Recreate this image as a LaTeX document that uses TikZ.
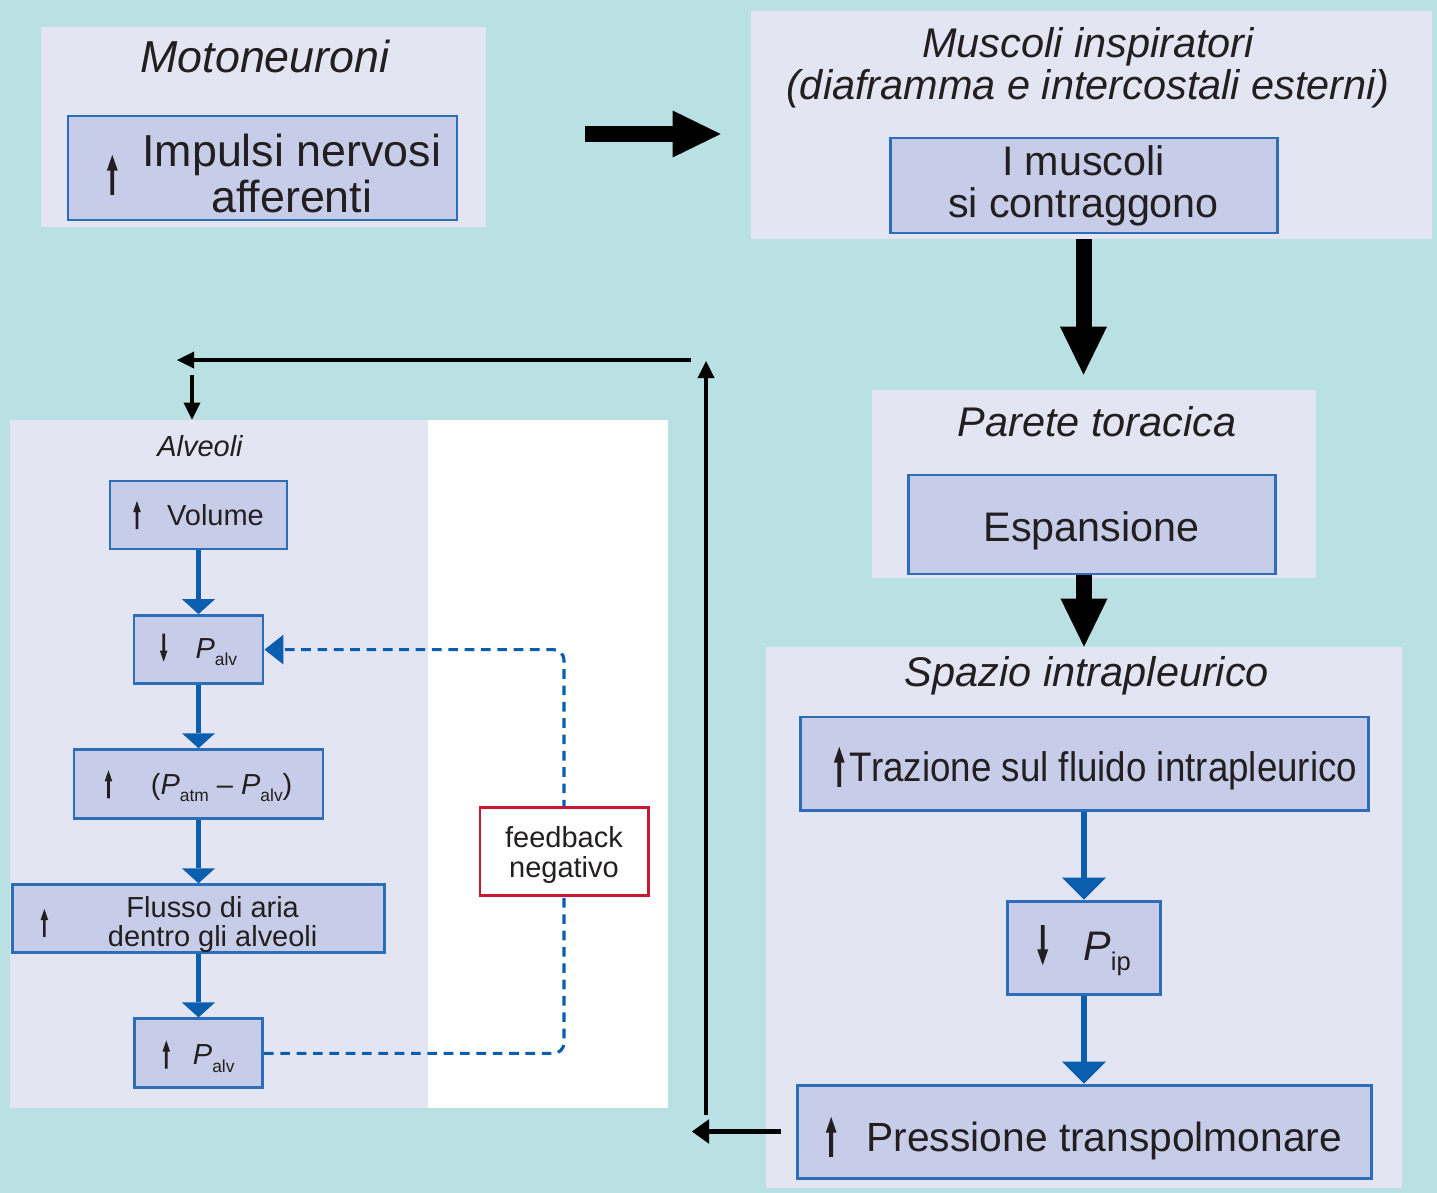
\documentclass[tikz,border=0pt]{standalone}
\usepackage{fontspec}
\setmainfont{Liberation Sans}
\usepackage{graphicx}
\usetikzlibrary{positioning, arrows.meta, calc}

\definecolor{fondo}{RGB}{185,224,227}
\definecolor{lavanda}{RGB}{227,229,242}
\definecolor{lilla}{RGB}{199,205,233}
\definecolor{bordoblu}{RGB}{45,110,185}
\definecolor{blu}{RGB}{10,94,173}
\definecolor{rosso}{RGB}{200,25,50}
\definecolor{inchiostro}{RGB}{35,31,32}

\newdimen\px \px=0.02cm

\newcommand{\frecciasu}[1][1]{\tikz[x=#1pt,y=#1pt,baseline={([yshift=-0.36em]current bounding box.center)}]{\fill (-1.1,0) rectangle (1.1,14.5) (-3.1,13.8) -- (0,22.8) -- (3.1,13.8) -- cycle;}}
\newcommand{\frecciagiu}[1][1]{\tikz[x=#1pt,y=#1pt,baseline={([yshift=-0.36em]current bounding box.center)}]{\fill (-1.1,22.8) rectangle (1.1,8.3) (-3.1,9) -- (0,0) -- (3.1,9) -- cycle;}}
\newcommand{\pres}[2][0.6]{\textit{P}\raisebox{-0.25em}{\scalebox{#1}{#2}}}
\newcommand{\scendi}[2]{\raisebox{-#1}[\height][\depth]{#2}}

\begin{document}
\begin{tikzpicture}[x=0.02cm, y=-0.02cm, on grid,
  pannello/.style={fill=lavanda, inner sep=0pt},
  scatola/.style={draw=bordoblu, fill=lilla, line width=1.7pt, inner sep=0pt, text=inchiostro},
  titolo/.style={text=inchiostro, inner sep=0pt, font=\fontsize{23.6}{24}\selectfont\itshape},
  grande/.style={font=\fontsize{23.5}{24}\selectfont},
  piccolo/.style={font=\fontsize{16.5}{16}\selectfont},
  grossa/.style={line width=9.1pt, -{Triangle[length=27.3pt, width=26.7pt, line width=0pt]}},
  nera/.style={line width=2.8pt, -{Triangle[length=9.7pt, width=9.7pt, line width=0pt]}},
  flusso/.style={draw=blu, line width=2.3pt, -{Triangle[length=8.5pt, width=18.8pt, line width=0pt]}},
  flussogr/.style={draw=blu, line width=2.9pt, -{Triangle[length=12.5pt, width=25pt, line width=0pt]}},
  retro/.style={draw=blu, line width=1.8pt, dash pattern=on 5.5pt off 3.8pt, rounded corners=6pt,
    -{Triangle[length=10.8pt, width=17pt, line width=0pt]}},
  nota/.style={draw=rosso, fill=white, line width=1.7pt, inner sep=0pt, text=inchiostro}]

  \path[use as bounding box, fill=fondo] (0,0) rectangle (1437,1193);

  % pannelli
  \node[pannello, minimum width=445\px, minimum height=200\px] (pmot) at (263.5,127) {};
  \node[pannello, minimum width=681\px, minimum height=228\px] (pmus) at (1091.5,125) {};
  \node[pannello, minimum width=444\px, minimum height=188\px] (ppar) at (1094,484) {};
  \node[pannello, minimum width=636\px, minimum height=541\px] (pspa) at (1084,917.5) {};
  \node[pannello, minimum width=418\px, minimum height=688\px] (palv) at (219,764) {};
  \fill[white] (palv.north east) rectangle ($(palv.south east)+(240,0)$);

  % titoli
  \node[titolo, font=\fontsize{25.5}{25}\selectfont\itshape, anchor=base] (tmot) at (265,73) {Motoneuroni};
  \node[titolo, align=center] (tmus) at (1088,68) {Muscoli inspiratori\\(diaframma e intercostali esterni)};
  \node[titolo, anchor=base] (tpar) at (1097,436) {Parete toracica};
  \node[titolo, anchor=base] (tspa) at (1087,686) {Spazio intrapleurico};
  \node[titolo, font=\fontsize{16.5}{16}\selectfont\itshape, anchor=base] (talv) at (200,456) {Alveoli};

  \node[scatola, minimum width=389\px, minimum height=104\px, font=\fontsize{25.5}{25.6}\selectfont] (imp) at (262.5,168)
    {\scendi{12\px}{\hspace*{23\px}\frecciasu\hspace{14pt}\begin{tabular}{@{}c@{}}Impulsi nervosi\\afferenti\end{tabular}}};
  \node[scatola, grande, align=center, minimum width=387\px, minimum height=95\px] (mus) at (1083.5,185.5) {I muscoli\\si contraggono};
  \node[scatola, grande, minimum width=367\px, minimum height=99\px] (esp) at (1091.5,524.5) {\scendi{6\px}{Espansione}};

  % spazio intrapleurico
  \node[scatola, grande, minimum width=568\px, minimum height=93\px] (tra) at (1084,763.5)
    {\scendi{5\px}{\hspace*{23\px}\frecciasu\hspace{3pt}\scalebox{0.89}[1]{Trazione sul fluido intrapleurico}}};
  \node[scatola, grande, minimum width=153\px, minimum height=93\px] (pip) [below=184\px of tra]
    {\scendi{3\px}{\frecciagiu\hspace{20pt}\pres[0.62]{ip}}};
  \node[scatola, font=\fontsize{23.2}{24}\selectfont, minimum width=574\px, minimum height=93\px] (pre) [below=184\px of pip]
    {\scendi{7\px}{\frecciasu\hspace{17pt}Pressione transpolmonare}};

  % alveoli
  \node[scatola, piccolo, minimum width=177\px, minimum height=68\px] (vol) at (198.5,515) {\frecciasu[0.7]\hspace{15pt}Volume};
  \node[scatola, piccolo, minimum width=129\px, minimum height=68\px] (pa1) [below=134.6\px of vol] {\frecciagiu[0.7]\hspace{16pt}\pres{alv}};
  \node[scatola, piccolo, minimum width=249\px, minimum height=69\px] (dif) [below=134.6\px of pa1]
    {\scendi{2\px}{\frecciasu[0.7]\hspace{22pt}(\pres{atm} – \pres{alv})}};
  \node[scatola, piccolo, minimum width=372\px, minimum height=68\px] (flu) [below=134.6\px of dif]
    {\scendi{7\px}{\frecciasu[0.7]\hspace{34pt}\begin{tabular}{@{}c@{}}Flusso di aria\\dentro gli alveoli\end{tabular}\hspace*{39\px}}};
  \node[scatola, piccolo, minimum width=128\px, minimum height=69\px] (pa2) [below=134.6\px of flu]
    {\scendi{3\px}{\frecciasu[0.7]\hspace{13pt}\pres{alv}}};

  \draw[flusso] (vol) -- (pa1);
  \draw[flusso] (pa1) -- (dif);
  \draw[flusso] (dif) -- (flu);
  \draw[flusso] (flu) -- (pa2);
  \draw[flussogr] (tra) -- (pip);
  \draw[flussogr] (pip) -- (pre);

  % frecce nere
  \coordinate (avvio) at (585,134);
  \draw[grossa, shorten >=30\px] (avvio) -- (avvio -| pmus.west);
  \draw[grossa, shorten >=15\px] (pmus.south -| mus) -- (ppar.north -| mus);
  \draw[grossa] (esp.south -| tra) -- (pspa.north -| tra);

  \coordinate (ritorno) at (692,1131.5);
  \draw[nera, -{Triangle[length=9.7pt, width=14pt, line width=0pt]}, shorten <=15\px] (pre.west) -- (ritorno);
  \coordinate (sal0) at (706,1115);
  \coordinate (sal1) at (706,361);
  \draw[nera] (sal0) -- (sal1);
  \coordinate (oriz0) at (691,360);
  \coordinate (oriz1) at (177,360);
  \draw[nera] (oriz0) -- (oriz1);
  \coordinate (sces) at (192,375);
  \draw[nera] (sces) -- (sces |- palv.north);

  % feedback
  \coordinate (fbpos) at (564,851);
  \draw[retro] (pa2.east) -- (pa2.east -| fbpos) -- (pa1.east -| fbpos) -- (pa1.east);
  \node[nota, piccolo, minimum width=168\px, minimum height=88\px] (fb) at (fbpos)
    {\scendi{5\px}{\begin{tabular}{@{}c@{}}feedback\\negativo\end{tabular}}};
\end{tikzpicture}
\end{document}
